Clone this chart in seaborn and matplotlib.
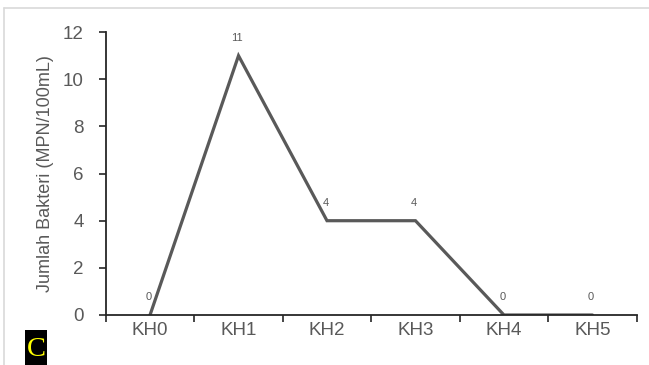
import matplotlib
matplotlib.use("Agg")
import matplotlib.pyplot as plt
import seaborn as sns
import pandas as pd
import numpy as np
from matplotlib.ticker import FixedLocator
from matplotlib.lines import Line2D
from matplotlib.patches import Rectangle

categories = ["KH0", "KH1", "KH2", "KH3", "KH4", "KH5"]
values = [0, 11, 4, 4, 0, 0]
y_ticks = [0, 2, 4, 6, 8, 10, 12]
y_label = "Jumlah Bakteri (MPN/100mL)"
panel_label = "C"

sns.set_style("white")
plt.rcParams['font.family'] = ['Liberation Sans', 'DejaVu Sans']

df = pd.DataFrame({"cat": categories, "val": values})

W, H = 649, 365
fig = plt.figure(figsize=(W / 100, H / 100), dpi=100)
ax = fig.add_axes([0.163, 0.137, 0.818, 0.775])

sns.lineplot(data=df, x="cat", y="val", ax=ax, sort=False, color="#595959",
             linewidth=2.3, solid_joinstyle="miter")

ax.set_xlim(-0.5, len(categories) - 0.5)
ax.set_ylim(0, 12)
ax.set_yticks(y_ticks)
ax.set_xticks(range(len(categories)))
ax.set_xticklabels(categories)
ax.xaxis.set_minor_locator(FixedLocator(np.arange(-0.5, len(categories), 1.0)))
ax.tick_params(axis="x", which="major", length=0, pad=5, labelsize=13.5, labelcolor="#595959")
ax.tick_params(axis="x", which="minor", length=5, width=1.2, color="#262626", direction="out", bottom=True)
ax.tick_params(axis="y", which="major", length=5, width=1.2, color="#262626", direction="out",
               left=True, labelsize=13.5, labelcolor="#595959", pad=11)
ax.set_xlabel("")
ax.set_ylabel(y_label, fontsize=13, color="#595959", labelpad=6)

for s in ["top", "right"]:
    ax.spines[s].set_visible(False)
for s in ["left", "bottom"]:
    ax.spines[s].set_color("#262626")
    ax.spines[s].set_linewidth(1.3)

for i, v in enumerate(values):
    ax.annotate(str(v), (i, v), xytext=(-1, 9), textcoords="offset points",
                ha="center", va="bottom", fontsize=8, color="#595959")

# light outer frame (top and left)
fig.add_artist(Line2D([4 / W, 1.0], [1 - 8 / H, 1 - 8 / H], transform=fig.transFigure,
                      color="#d9d9d9", linewidth=1.2))
fig.add_artist(Line2D([4 / W, 4 / W], [0, 1 - 8 / H], transform=fig.transFigure,
                      color="#d9d9d9", linewidth=1.2))

# panel label: yellow serif letter on a black block reaching the bottom edge
fig.add_artist(Rectangle((25 / W, 0), 22 / W, 35 / H, transform=fig.transFigure,
                         facecolor="black", edgecolor="none"))
fig.text(36 / W, 1 - 349.5 / H, panel_label, ha="center", va="center", fontsize=20.5,
         family=["Liberation Serif", "DejaVu Serif"], color="yellow")

fig.savefig("out.png", dpi=100)
